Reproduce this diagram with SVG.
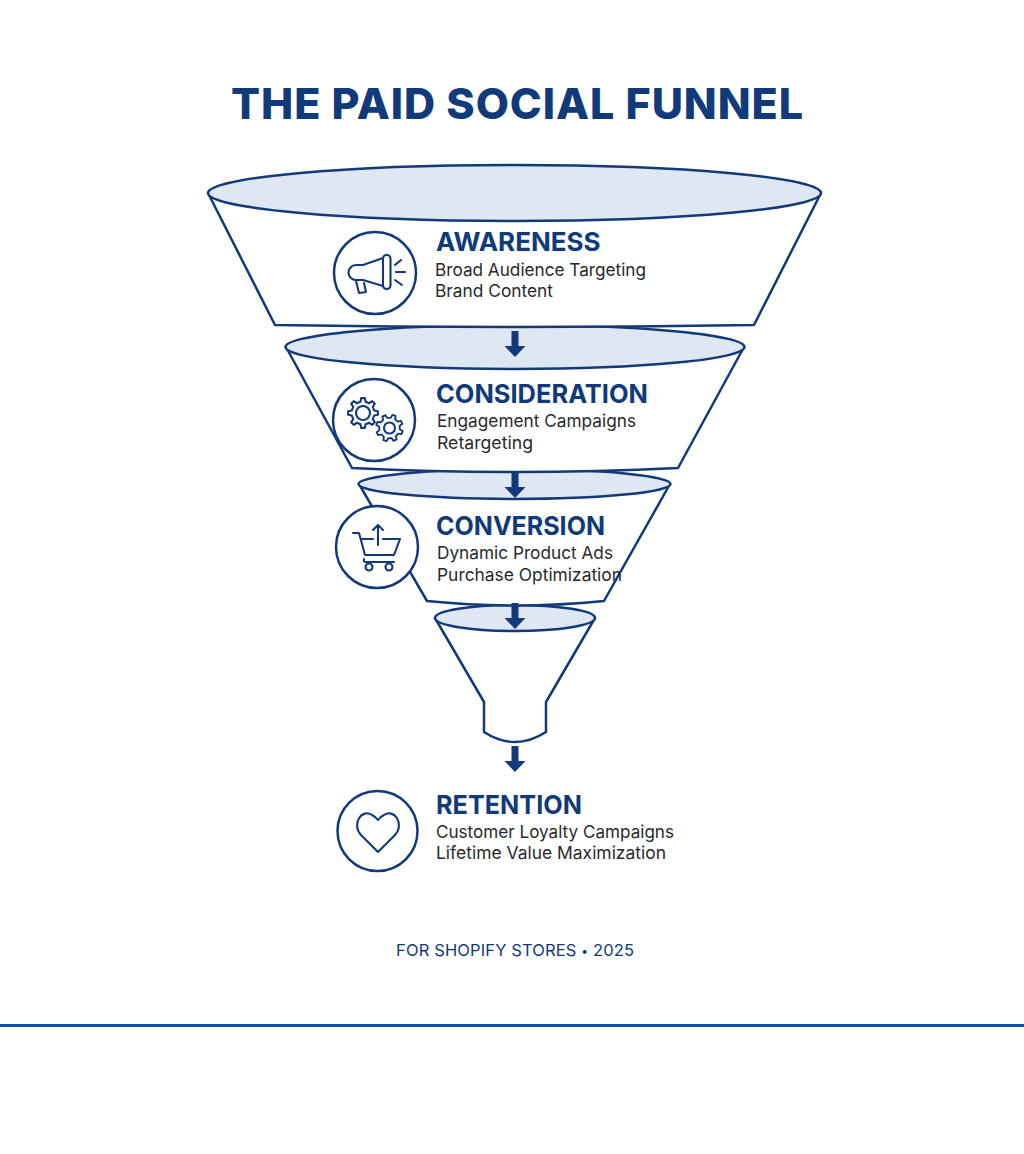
<svg xmlns="http://www.w3.org/2000/svg" width="1024" height="1154" viewBox="0 0 1024 1154">
<style>
.f{fill:#fff;stroke:#12397a;stroke-width:2.5;stroke-linejoin:round}
.e{fill:#dfe7f3;stroke:#12397a;stroke-width:2.5}
.c{fill:#fff;stroke:#12397a;stroke-width:2.5}
.i{fill:none;stroke:#12397a;stroke-width:2.1;stroke-linecap:round;stroke-linejoin:round}
.h{font:700 26px Inter,"Liberation Sans",sans-serif;fill:#103a7a}
.s{font:400 17.5px Inter,"Liberation Sans",sans-serif;fill:#2a2a2a}
.a{fill:#12397a}
</style>
<defs>
<path id="arr" d="M-3.500 0H3.500V15H10.500L0 26L-10.500 15H-3.500Z"/>
<path id="gear" d="M-2.590 -11.200L-1.830 -14.890L1.830 -14.890L2.590 -11.200L6.090 -9.750L9.240 -11.820L11.820 -9.240L9.750 -6.090L11.200 -2.590L14.890 -1.830L14.890 1.830L11.200 2.590L9.750 6.090L11.820 9.240L9.240 11.820L6.090 9.750L2.590 11.200L1.830 14.890L-1.830 14.890L-2.590 11.200L-6.090 9.750L-9.240 11.820L-11.820 9.240L-9.750 6.090L-11.200 2.590L-14.890 1.830L-14.890 -1.830L-11.200 -2.590L-9.750 -6.090L-11.820 -9.240L-9.240 -11.820L-6.090 -9.750Z"/>
</defs>
<rect width="1024" height="1154" fill="#fff"/>
<text id="title" x="231" y="119" font-family="Inter,'Liberation Sans',sans-serif" font-weight="800" font-size="43" fill="#103a7a" textLength="572" lengthAdjust="spacing">THE PAID SOCIAL FUNNEL</text>

<g id="funnel-retention-cone">
<path class="f" d="M435 618L484 702V732Q515 752 546 732V702L595 618Z"/>
<ellipse class="e" cx="515" cy="618" rx="80" ry="13"/>
</g>
<g id="funnel-conversion">
<path class="f" d="M359 484L427 601Q515 610 604 601L670 484Z"/>
<ellipse class="e" cx="514.500" cy="484" rx="156" ry="15"/>
</g>
<g id="funnel-consideration">
<path class="f" d="M286 347L352 468Q515 476 678 468L744 347Z"/>
<ellipse class="e" cx="515" cy="347" rx="229.500" ry="22"/>
</g>
<g id="funnel-awareness">
<path class="f" d="M208 193L275 325Q515 329 754 325L821 193Z"/>
<ellipse class="e" cx="514.500" cy="193" rx="306.500" ry="28"/>
</g>

<g id="connectors" class="a">
<use href="#arr" x="515" y="331"/>
<use href="#arr" x="515" y="472"/>
<use href="#arr" x="515" y="603"/>
<use href="#arr" x="515" y="746"/>
</g>

<g id="awareness">
<circle class="c" cx="375" cy="273" r="41"/>
<path class="i" d="M383 258L363 265H356A7.500 7.500 0 0 0 356 280H363L383 286"/>
<rect class="i" x="383" y="255" width="7.500" height="34" rx="3.500"/>
<path class="i" d="M356 281L359 293L366 292L364 283"/>
<path class="i" d="M395 265L401 260M396 272H405M395 280L402 285"/>
<text class="h" x="436" y="251">AWARENESS</text>
<text class="s" x="435" y="276" textLength="211" lengthAdjust="spacingAndGlyphs">Broad Audience Targeting</text>
<text class="s" x="435" y="297" textLength="118" lengthAdjust="spacingAndGlyphs">Brand Content</text>
</g>

<g id="consideration">
<circle class="c" cx="374" cy="420" r="41"/>
<use href="#gear" transform="translate(363 413)" class="i"/>
<circle class="i" cx="363" cy="413" r="7"/>
<use href="#gear" transform="translate(389.500 428) scale(.9) rotate(20)" class="i"/>
<circle class="i" cx="389.500" cy="428" r="5.500"/>
<text class="h" x="436" y="403" textLength="212" lengthAdjust="spacingAndGlyphs">CONSIDERATION</text>
<text class="s" x="437" y="427" textLength="199" lengthAdjust="spacingAndGlyphs">Engagement Campaigns</text>
<text class="s" x="437" y="449" textLength="96" lengthAdjust="spacingAndGlyphs">Retargeting</text>
</g>

<g id="conversion">
<circle class="c" cx="377" cy="547" r="41"/>
<path class="i" d="M353 533H359L365 555H394L400 539H383M373 539H361"/>
<path class="i" d="M394 562H366Q363 562 364 559"/>
<circle class="i" cx="369" cy="567" r="3.500"/>
<circle class="i" cx="389" cy="567" r="3.500"/>
<path class="i" d="M378 545V525M373 530L378 525L383 530"/>
<text class="h" x="436" y="535" textLength="169" lengthAdjust="spacingAndGlyphs">CONVERSION</text>
<text class="s" x="437" y="559" textLength="176" lengthAdjust="spacingAndGlyphs">Dynamic Product Ads</text>
<text class="s" x="437" y="581" textLength="185" lengthAdjust="spacingAndGlyphs">Purchase Optimization</text>
</g>

<g id="retention">
<circle class="c" cx="377.500" cy="831" r="40"/>
<path class="i" d="M378 852L361 835C351 824 362 808 372 815Q376 817 378 820Q380 817 384 815C394 808 405 824 395 835Z"/>
<text class="h" x="436" y="814" textLength="146" lengthAdjust="spacingAndGlyphs">RETENTION</text>
<text class="s" x="436" y="838" textLength="238" lengthAdjust="spacingAndGlyphs">Customer Loyalty Campaigns</text>
<text class="s" x="436" y="859" textLength="230" lengthAdjust="spacingAndGlyphs">Lifetime Value Maximization</text>
</g>

<text id="footer" x="396" y="956" font-family="Inter,'Liberation Sans',sans-serif" font-size="16.500" fill="#103a7a" textLength="238" lengthAdjust="spacing">FOR SHOPIFY STORES <tspan font-size="12" dy="-1.500">•</tspan><tspan dy="1.500"> 2025</tspan></text>
<rect id="rule" x="0" y="1024" width="1024" height="3" fill="#0f4fa8"/>
</svg>
